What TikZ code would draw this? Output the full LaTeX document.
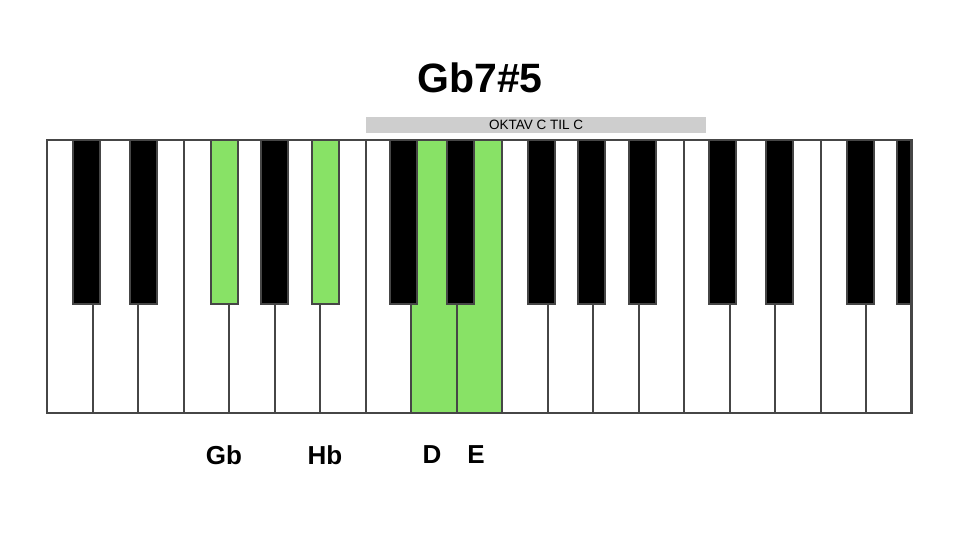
\documentclass[tikz,border=0pt]{standalone}
\usepackage{fontspec}
\setmainfont{Liberation Sans}
\definecolor{keygreen}{RGB}{136,226,102}
\definecolor{keyline}{RGB}{70,70,70}
\definecolor{barfill}{RGB}{206,206,206}
\begin{document}
\begin{tikzpicture}[x=1pt,y=-1pt,
  whitekey/.style={draw=keyline,line width=2pt,fill=white},
  greenwhite/.style={draw=keyline,line width=2pt,fill=keygreen},
  blackkey/.style={draw=keyline,line width=1.6pt,fill=black},
  greenblack/.style={draw=keyline,line width=1.6pt,fill=keygreen},
  lbl/.style={font=\bfseries\fontsize{26}{30}\selectfont,inner sep=0pt}]
\useasboundingbox (0,0) rectangle (960,540);
\fill[white] (0,0) rectangle (960,540);
% title
\node[font=\bfseries\fontsize{41}{46}\selectfont,inner sep=0pt] (title) at (480,78) {Gb7\#5};
% octave bar
\node[fill=barfill,minimum width=340pt,minimum height=16pt,inner sep=0pt,
      font=\fontsize{13.5}{15}\selectfont,anchor=north west] (oktav) at (366,117) {OKTAV C TIL C};
% white keys
\foreach \i in {0,...,18}{
  \pgfmathsetmacro{\xa}{47+865/19*\i}
  \pgfmathsetmacro{\xb}{47+865/19*(\i+1)}
  \ifnum\i=8 \def\st{greenwhite}\else\ifnum\i=9 \def\st{greenwhite}\else\def\st{whitekey}\fi\fi
  \draw[\st] (\xa,140) rectangle (\xb,413);
}
% black keys
\foreach \xa in {73,130,261,390,447,528,578,629,709,766,847}{
  \draw[blackkey] (\xa,140) rectangle ({\xa+27},304);
}
\foreach \xa in {211,312}{
  \draw[greenblack] (\xa,140) rectangle ({\xa+27},304);
}
\draw[blackkey] (897,140) rectangle (911,304);
% outer border
\draw[keyline,line width=2pt] (47,140) rectangle (911,413);
% labels
\node[lbl] (gb) at (224,455) {Gb};
\node[lbl] (hb) at (325,455) {Hb};
\node[lbl] (d) at (432,455) {D};
\node[lbl] (e) at (476,455) {E};
\end{tikzpicture}
\end{document}
